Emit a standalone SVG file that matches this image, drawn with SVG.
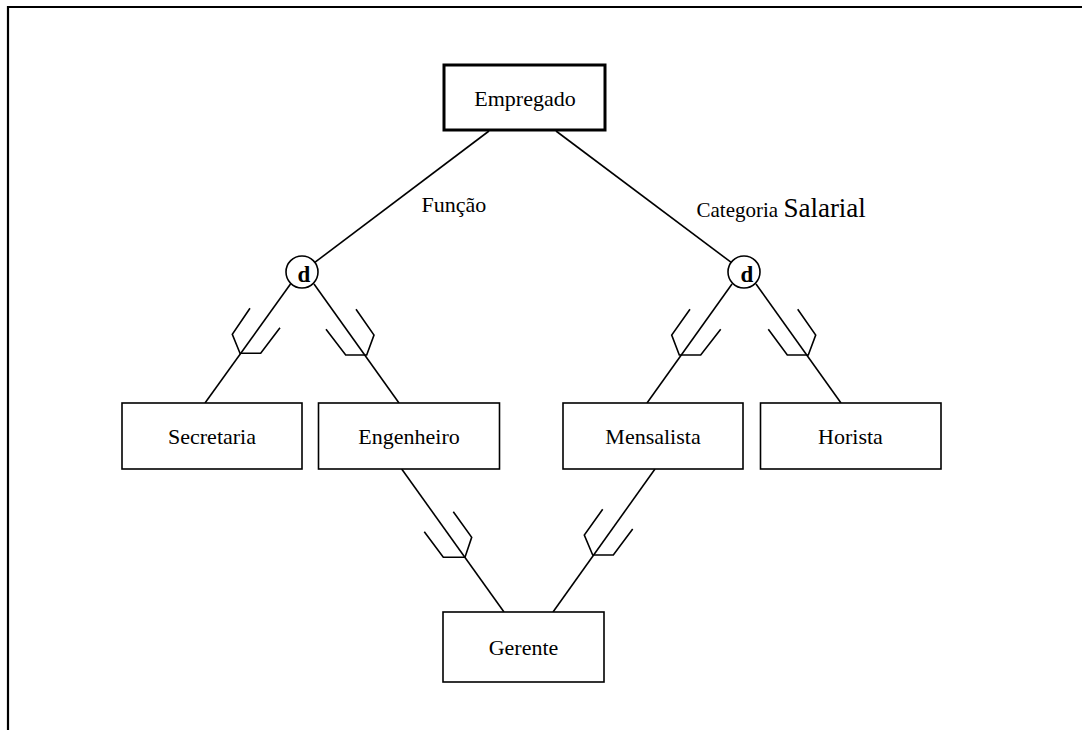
<svg xmlns="http://www.w3.org/2000/svg" width="1082" height="730" viewBox="0 0 1082 730">
<style>
.box{fill:#fff;stroke:#000;stroke-width:1.6}
.thick{fill:#fff;stroke:#000;stroke-width:3}
.lbl{font-family:"Liberation Serif","Times New Roman",serif;font-size:22px;fill:#000;text-anchor:middle}
.free{font-family:"Liberation Serif","Times New Roman",serif;font-size:22px;fill:#000}
.d{font-family:"Liberation Serif","Times New Roman",serif;font-size:23px;font-weight:bold;fill:#000;text-anchor:middle}
.ln{fill:none;stroke:#000;stroke-width:1.6}
.circ{fill:#fff;stroke:#000;stroke-width:1.6}
</style>
<rect width="1082" height="730" fill="#fff"/>
<g id="frame">
<polyline points="8,730 8,7 1082,7" fill="none" stroke="#000" stroke-width="2.2"/>
</g>
<g id="connectors">
<line class="ln" x1="489" y1="131" x2="314.8" y2="262.4"/>
<line class="ln" x1="556" y1="131" x2="731.2" y2="262.4"/>
<line class="ln" x1="290.5" y1="284" x2="205" y2="403"/>
<line class="ln" x1="314" y1="284" x2="399" y2="403"/>
<line class="ln" x1="732" y1="284" x2="647" y2="403"/>
<line class="ln" x1="756" y1="284" x2="841" y2="403"/>
<line class="ln" x1="401.7" y1="469" x2="504" y2="612"/>
<line class="ln" x1="655" y1="469" x2="553" y2="612"/>
<polyline class="ln" points="250,308.3 232.3,334.3 240,353.3 260.7,353.3 280,327.7"/>
<polyline class="ln" points="356,309.3 374,335 366.7,355 345.7,355 326,329.3"/>
<polyline class="ln" points="690,309.3 671.7,335 679.3,355 700.7,355 720.7,329.3"/>
<polyline class="ln" points="797.7,309.3 815.7,335 808.3,355 787.3,355 768.3,329.3"/>
<polyline class="ln" points="453.3,511.7 471.7,537.3 465,557.3 443.3,557.3 424.3,531.7"/>
<polyline class="ln" points="602.7,509.3 584.3,535 592.7,555 613.3,555 632.7,529"/>
<text class="free" x="421.5" y="211.5">Função</text>
<text class="free" x="696.5" y="217"><tspan font-size="21">Categoria </tspan><tspan font-size="27">Salarial</tspan></text>
</g>
<g id="empregado">
<rect class="thick" x="444" y="65" width="161" height="65"/>
<text class="lbl" x="525" y="105.5">Empregado</text>
</g>
<g id="disj-funcao">
<circle class="circ" cx="302" cy="272" r="16"/>
<text class="d" x="304" y="281.5">d</text>
</g>
<g id="disj-categoria">
<circle class="circ" cx="744" cy="272" r="16"/>
<text class="d" x="747" y="281.5">d</text>
</g>
<g id="secretaria">
<rect class="box" x="122" y="403" width="180" height="66"/>
<text class="lbl" x="212" y="443.5">Secretaria</text>
</g>
<g id="engenheiro">
<rect class="box" x="318.5" y="403" width="181" height="66"/>
<text class="lbl" x="409" y="443.5">Engenheiro</text>
</g>
<g id="mensalista">
<rect class="box" x="563" y="403" width="180" height="66"/>
<text class="lbl" x="653" y="443.5">Mensalista</text>
</g>
<g id="horista">
<rect class="box" x="760.5" y="403" width="180.5" height="66"/>
<text class="lbl" x="850.5" y="443.5">Horista</text>
</g>
<g id="gerente">
<rect class="box" x="443" y="612" width="161" height="70"/>
<text class="lbl" x="523.5" y="655">Gerente</text>
</g>
</svg>
